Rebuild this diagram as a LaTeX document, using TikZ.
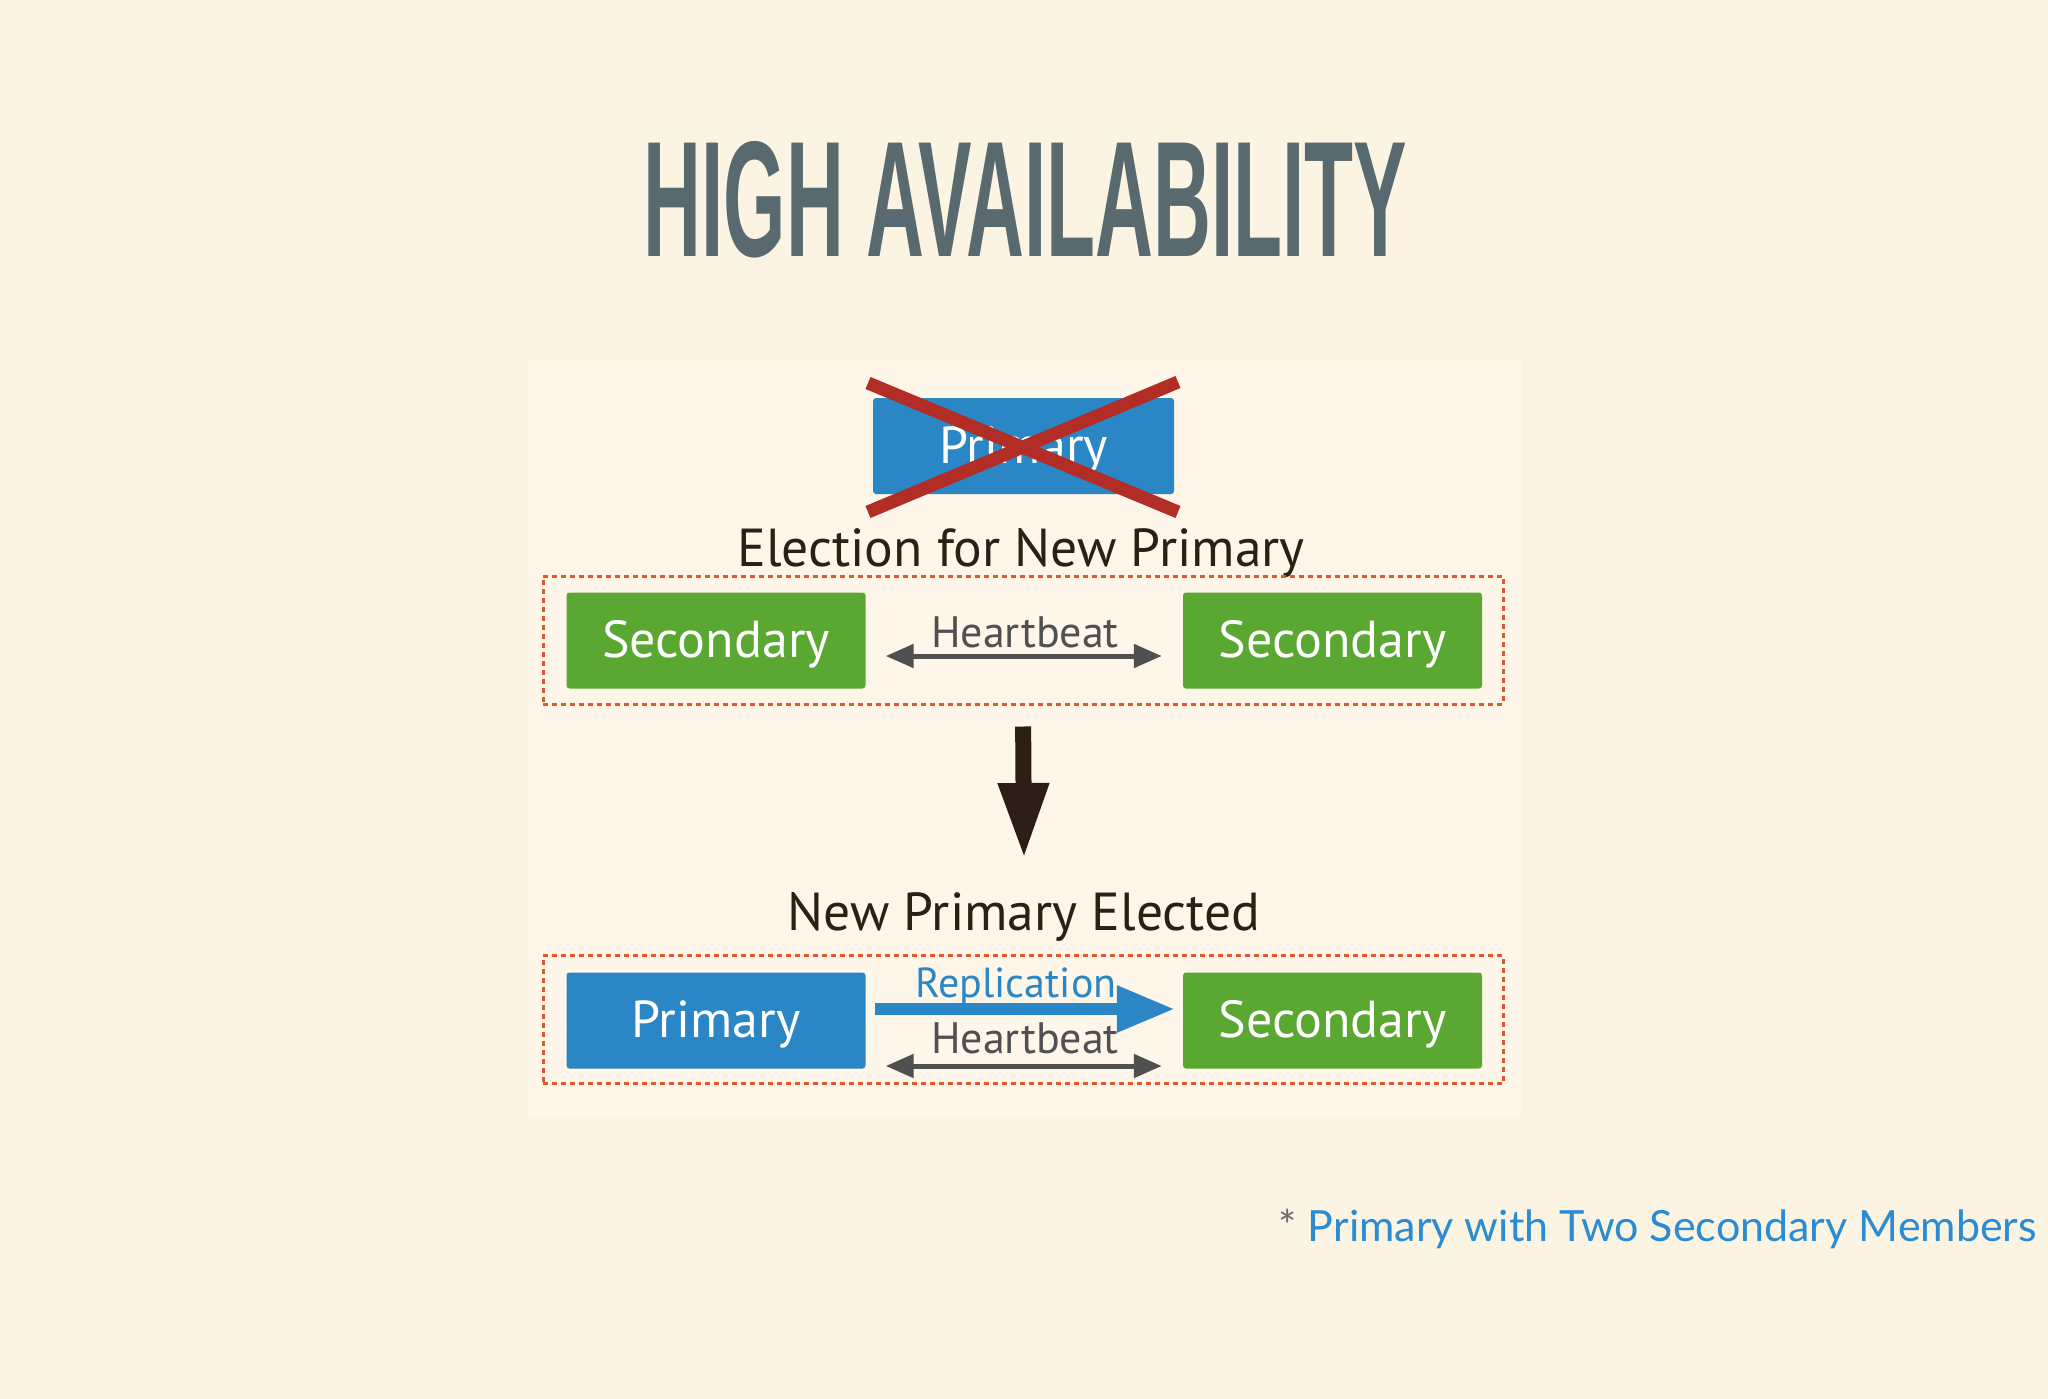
\documentclass[tikz,border=0pt]{standalone}
\usepackage{fontspec}
\usepackage{graphicx}
\usetikzlibrary{arrows.meta}
\newfontfamily\gill{PT Sans}
\newfontfamily\latof{Lato}
\newfontfamily\titlef{Liberation Sans}
\definecolor{bgc}{HTML}{FCF4E3}
\definecolor{panelc}{HTML}{FDF6E9}
\definecolor{titlec}{HTML}{586A70}
\definecolor{bluec}{HTML}{2A86C5}
\definecolor{greenc}{HTML}{5AA832}
\definecolor{redx}{HTML}{B22D26}
\definecolor{dashc}{HTML}{E2592E}
\definecolor{darkc}{HTML}{2D1F17}
\definecolor{grayc}{HTML}{505050}
\definecolor{footc}{HTML}{2B8BD3}
\definecolor{astc}{HTML}{6B6B6B}
\begin{document}
\begin{tikzpicture}[x=1pt,y=-1pt,
  box/.style={rounded corners=3pt, minimum width=299pt, minimum height=96pt, inner sep=0pt, text=white, font=\gill\fontsize{52}{56}\selectfont, text height=36pt, text depth=2pt},
  bluebox/.style={box, fill=bluec},
  greenbox/.style={box, fill=greenc},
  group/.style={draw=dashc, line width=3pt, dash pattern=on 5pt off 4pt, minimum width=960pt, minimum height=128pt, inner sep=0pt},
  lbl/.style={text=darkc, font=\gill\fontsize{53.5}{56}\selectfont, inner sep=0pt},
  small/.style={font=\gill\fontsize{44}{48}\selectfont, inner sep=0pt},
  hbarrow/.style={draw=grayc, line width=5pt, {Triangle[length=28pt,width=23pt]}-{Triangle[length=28pt,width=23pt]}},
  reparrow/.style={draw=bluec, line width=12pt, -{Triangle[length=58pt,width=44pt]}},
  downarrow/.style={draw=darkc, line width=16pt, -{Triangle[length=76pt,width=47pt]}},
  cross/.style={draw=redx, line width=13pt}
]
\useasboundingbox (0,0) rectangle (2048,1399);
\fill[bgc] (0,0) rectangle (2048,1399);
\fill[panelc] (529,359) rectangle (1522,1117);

\node[text=titlec, inner sep=0pt, anchor=north] (title) at (1025.5,141)
  {\resizebox{763pt}{115pt}{\titlef\bfseries HIGH AVAILABILITY}};

% crossed-out primary
\node[bluebox, minimum width=301pt] (oldp) at (1023.5,446) {Primary};
\draw[cross] (868,383) -- (1178,512);
\draw[cross] (868,512) -- (1178,382);

\node[lbl, anchor=base] (elect) at (1021,566) {Election for New Primary};

% group 1
\node[group] (g1) at (1023,640) {};
\node[greenbox] (s1) at (716,640.5) {Secondary};
\node[greenbox] (s2) at (1332.5,640.5) {Secondary};
\draw[hbarrow, shorten <=20pt, shorten >=21pt] ([yshift=-15.5pt]s1.east) -- ([yshift=-15.5pt]s2.west);
\node[small, text=grayc, anchor=base] (hb1) at (1025,647) {Heartbeat};

% down arrow
\coordinate (dtip) at (1024,859);
\draw[downarrow, shorten <=21pt] (g1.south) -- (dtip);

\node[lbl, anchor=base] (newp) at (1024,930) {New Primary Elected};

% group 2
\node[group] (g2) at (1023,1019.5) {};
\node[bluebox] (p2) at (716,1020.5) {Primary};
\node[greenbox] (s3) at (1332.5,1020.5) {Secondary};
\draw[reparrow, shorten <=9pt, shorten >=8pt] ([yshift=11.5pt]p2.east) -- ([yshift=11.5pt]s3.west);
\node[small, text=bluec, anchor=base, font=\gill\fontsize{42}{46}\selectfont] (rep) at (1016,997) {Replication};
\draw[hbarrow, shorten <=20pt, shorten >=21pt] ([yshift=-45.5pt]p2.east) -- ([yshift=-45.5pt]s3.west);
\node[small, text=grayc, anchor=base] (hb2) at (1025,1053) {Heartbeat};

% footnote
\node[anchor=base east, inner sep=0pt, font=\latof\fontsize{43}{46}\selectfont] (foot) at (2037,1241)
  {\textcolor{astc}{*} \textcolor{footc}{Primary with Two Secondary Members}};
\end{tikzpicture}
\end{document}
